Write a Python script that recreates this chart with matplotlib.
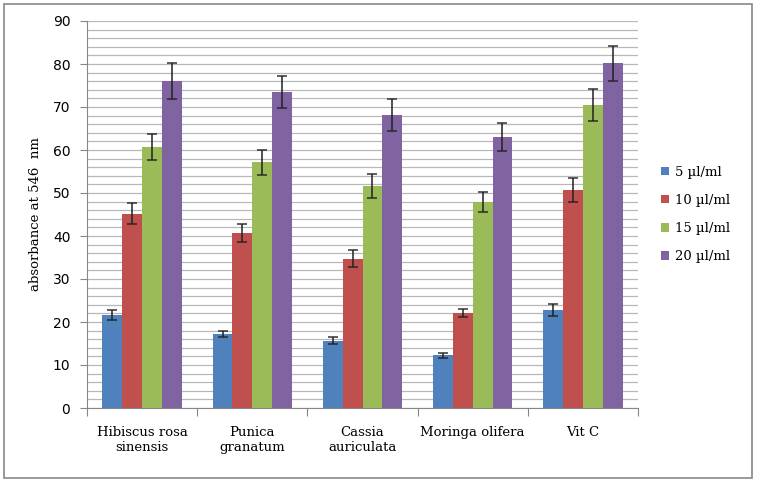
import matplotlib.pyplot as plt
import matplotlib.patches as patches
import numpy as np

# data
categories = ["Hibiscus rosa\nsinensis", "Punica\ngranatum", "Cassia\nauriculata",
              "Moringa olifera", "Vit C"]
series = ["5 µl/ml", "10 µl/ml", "15 µl/ml", "20 µl/ml"]
colors = ["#4F81BD", "#C0504D", "#9BBB59", "#8064A2"]

values = [
    [21.6, 17.2, 15.6, 12.3, 22.8],   # 5
    [45.2, 40.6, 34.7, 22.1, 50.7],   # 10
    [60.7, 57.2, 51.6, 47.9, 70.5],   # 15
    [76.0, 73.5, 68.1, 63.0, 80.2],   # 20
]
errors = [
    [1.1, 0.8, 0.8, 0.6, 1.3],
    [2.4, 2.1, 2.0, 1.0, 2.8],
    [3.1, 2.9, 2.8, 2.3, 3.8],
    [4.2, 3.8, 3.7, 3.2, 4.1],
]

fig = plt.figure(figsize=(7.57, 4.84), dpi=100)
ax = fig.add_axes([87/757, 1 - 408/484, 551/757, 387/484])

# outer chart border
fig.patches.append(patches.Rectangle((4/757, 6/484), 748/757, 474/484,
                                     transform=fig.transFigure, fill=False,
                                     edgecolor="#878787", linewidth=1.2))

x = np.arange(len(categories))
w = 0.18
for i in range(len(series)):
    pos = x + (i - 1.5) * w
    ax.bar(pos, values[i], w, color=colors[i], label=series[i], zorder=2)
    ax.errorbar(pos, values[i], yerr=errors[i], fmt="none", ecolor="#222222",
                elinewidth=1.3, capsize=3.5, capthick=1.2, zorder=3, alpha=0.85)

ax.set_xlim(-0.5, len(categories) - 0.5)
ax.set_ylim(0, 90)
ax.set_yticks(np.arange(0, 91, 10))
ax.set_yticks(np.arange(0, 91, 2), minor=True)
ax.grid(True, which="both", axis="y", color="#b8b8b8", linewidth=0.9, zorder=0)
ax.set_axisbelow(True)

for s in ["top", "right"]:
    ax.spines[s].set_visible(False)
ax.spines["left"].set_color("#868686")
ax.spines["bottom"].set_color("#868686")

ax.set_xticks(np.arange(-0.5, len(categories), 1.0))
ax.set_xticklabels([])
ax.set_xticks(x, minor=True)
ax.set_xticklabels(categories, minor=True, fontfamily="DejaVu Serif", fontsize=9.5)
ax.tick_params(axis="x", which="major", length=6, color="#868686")
ax.tick_params(axis="x", which="minor", length=0, pad=13)
ax.tick_params(axis="y", which="major", length=5, color="#868686", labelsize=10, pad=7)
ax.tick_params(axis="y", which="minor", length=0)

ax.set_ylabel("absorbance at 546  nm", fontfamily="DejaVu Serif", fontsize=9.5, labelpad=8)

ax.legend(loc="center left", bbox_to_anchor=(1.02, 0.5), frameon=False,
          prop={"family": "DejaVu Serif", "size": 9.5}, handlelength=0.6,
          handleheight=0.6, handletextpad=0.5, labelspacing=1.15)

plt.savefig("out.png", dpi=100)
